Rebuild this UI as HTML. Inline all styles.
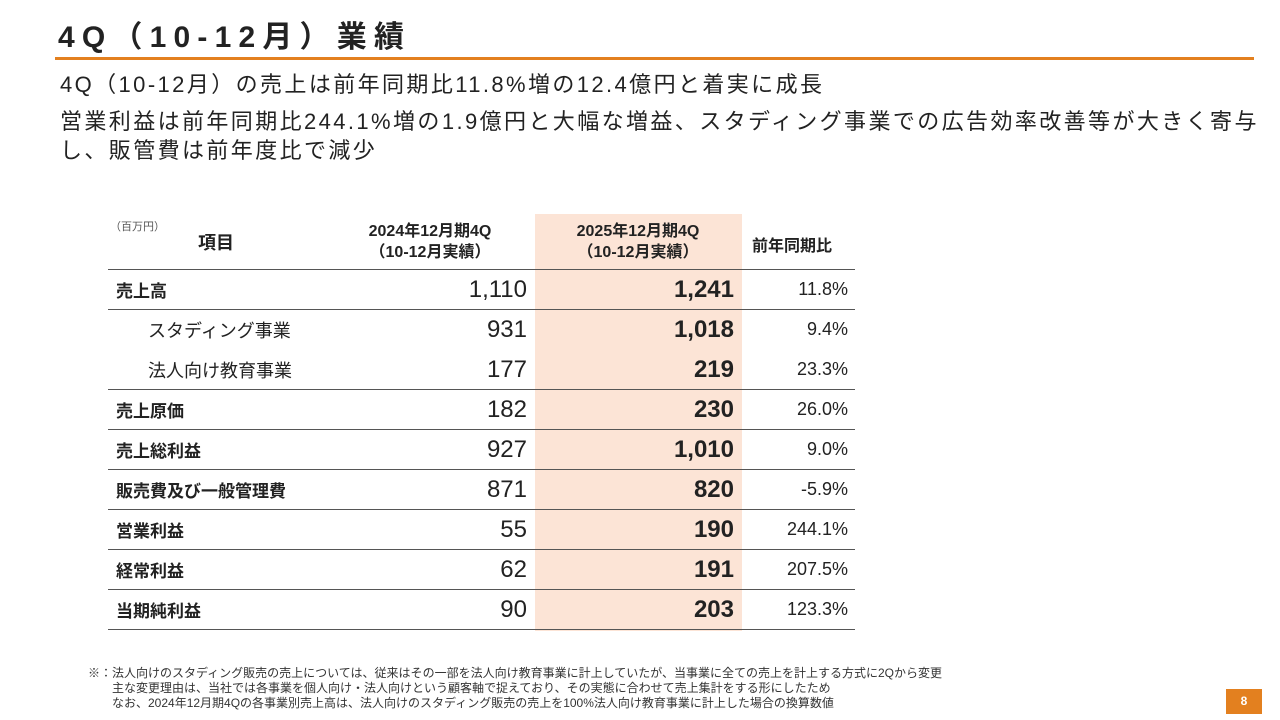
<!DOCTYPE html>
<html><head><meta charset="utf-8"><style>
body{margin:0;width:1280px;height:720px;background:#fff;position:relative;overflow:hidden;font-family:"Liberation Sans","Noto Sans CJK JP",sans-serif;color:#222}
.a{position:absolute;white-space:nowrap}
.row{position:absolute;left:108px;width:747px;height:40px}
.row .l{position:absolute;left:8px;top:8px;font-size:17px;font-weight:bold}
.row .l.sub{left:40px;font-weight:normal;font-size:18px}
.row .c2{position:absolute;right:328px;top:7px;font-size:24px}
.row .c3{position:absolute;right:121px;top:7px;font-size:24px;font-weight:bold}
.row .c4{position:absolute;right:7px;top:10px;font-size:18px}
.line{position:absolute;left:108px;width:747px;height:1px;background:#555}
</style></head><body>
<div class="a" style="left:58px;top:12px;font-size:30px;font-weight:bold;letter-spacing:7.2px">4Q（10-12月）業績</div>
<div class="a" style="left:55px;top:57px;width:1199px;height:3px;background:#E3801F"></div>
<div class="a" style="left:60px;top:67px;font-size:22px;letter-spacing:2.4px">4Q（10-12月）の売上は前年同期比11.8%増の12.4億円と着実に成長</div>
<div class="a" style="left:60px;top:107px;font-size:22px;line-height:29px;letter-spacing:2.4px">営業利益は前年同期比244.1%増の1.9億円と大幅な増益、スタディング事業での広告効率改善等が大きく寄与<br>し、販管費は前年度比で減少</div>

<div class="a" style="left:535px;top:214px;width:207px;height:417px;background:#FCE4D6"></div>
<div class="a" style="left:110px;top:218px;font-size:11px;color:#555">（百万円）</div>
<div class="a" style="left:198px;top:229px;font-size:18px;font-weight:bold">項目</div>
<div class="a" style="left:330px;top:221px;width:200px;text-align:center;font-size:16px;font-weight:bold;line-height:21px">2024年12月期4Q<br>（10-12月実績）</div>
<div class="a" style="left:538px;top:221px;width:200px;text-align:center;font-size:16px;font-weight:bold;line-height:21px">2025年12月期4Q<br>（10-12月実績）</div>
<div class="a" style="left:752px;top:232px;font-size:16px;font-weight:bold">前年同期比</div>

<div id="tbl"></div>

<div class="a" style="left:88px;top:666px;font-size:12px;line-height:15px;color:#333">※：法人向けのスタディング販売の売上については、従来はその一部を法人向け教育事業に計上していたが、当事業に全ての売上を計上する方式に2Qから変更<br>&emsp;&emsp;主な変更理由は、当社では各事業を個人向け・法人向けという顧客軸で捉えており、その実態に合わせて売上集計をする形にしたため<br>&emsp;&emsp;なお、2024年12月期4Qの各事業別売上高は、法人向けのスタディング販売の売上を100%法人向け教育事業に計上した場合の換算数値</div>
<div class="a" style="left:1226px;top:689px;width:36px;height:25px;background:#E3801F;color:#fff;font-size:12px;font-weight:bold;text-align:center;line-height:25px">8</div>

<script>
const labels=["売上高","スタディング事業","法人向け教育事業","売上原価","売上総利益","販売費及び一般管理費","営業利益","経常利益","当期純利益"];
const prev=["1,110","931","177","182","927","871","55","62","90"];
const curr=["1,241","1,018","219","230","1,010","820","190","191","203"];
const yoy=["11.8%","9.4%","23.3%","26.0%","9.0%","-5.9%","244.1%","207.5%","123.3%"];
const sub=[false,true,true,false,false,false,false,false,false];
const noLineAfter=[false,true,false,false,false,false,false,false,false];
const t=document.getElementById('tbl');
const top0=269,rh=40;
function mk(cls,txt,name){const d=document.createElement('div');d.className=cls;d.textContent=txt;


return d;}
const l0=document.createElement('div');l0.className='line';l0.style.top=top0+'px';


t.appendChild(l0);
labels.forEach((lb,i)=>{
 const r=document.createElement('div');r.className='row';r.style.top=(top0+i*rh)+'px';
 
 
 r.appendChild(mk('l'+(sub[i]?' sub':''),lb,'row-label'));
 r.appendChild(mk('c2',prev[i],'value-2024'));
 r.appendChild(mk('c3',curr[i],'value-2025'));
 r.appendChild(mk('c4',yoy[i],'value-yoy'));
 t.appendChild(r);
 if(!noLineAfter[i]){const ln=document.createElement('div');ln.className='line';ln.style.top=(top0+(i+1)*rh)+'px';
 
 
 t.appendChild(ln);}
});
</script>
</body></html>
